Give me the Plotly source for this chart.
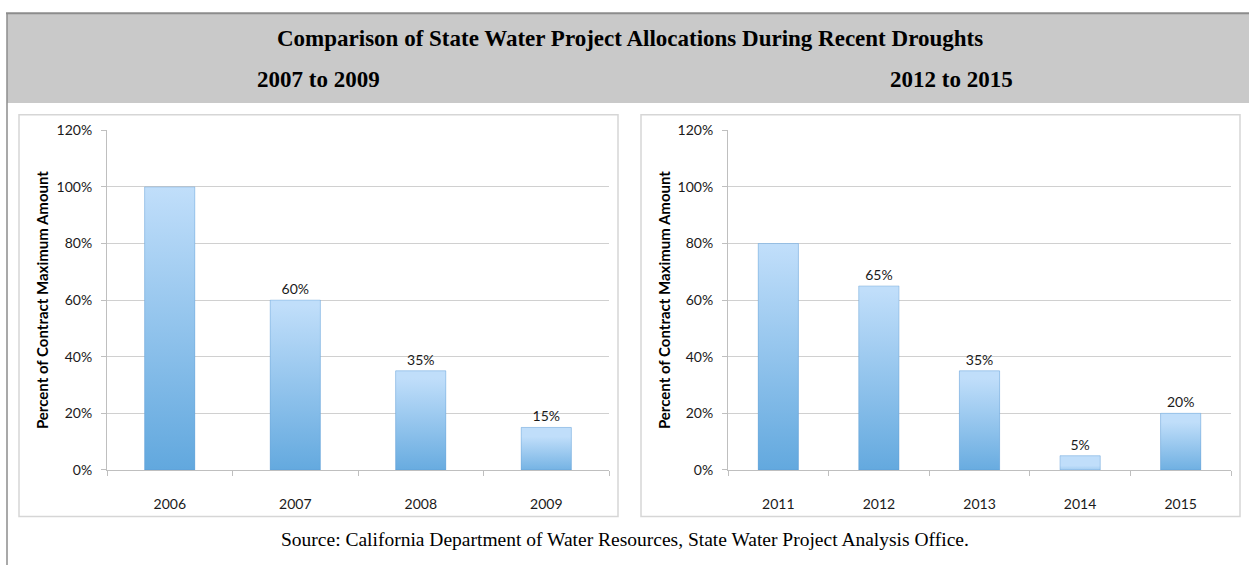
import plotly.graph_objects as go

# ---- data ----
title = "Comparison of State Water Project Allocations During Recent Droughts"
left_subtitle = "2007 to 2009"
right_subtitle = "2012 to 2015"
left_years = ["2006", "2007", "2008", "2009"]
left_values = [100, 60, 35, 15]
left_labels = ["", "60%", "35%", "15%"]
right_years = ["2011", "2012", "2013", "2014", "2015"]
right_values = [80, 65, 35, 5, 20]
right_labels = ["", "65%", "35%", "5%", "20%"]
y_ticks = [0, 20, 40, 60, 80, 100, 120]
y_ticktext = ["0%", "20%", "40%", "60%", "80%", "100%", "120%"]
y_title = "Percent of Contract Maximum Amount"
source = "Source: California Department of Water Resources, State Water Project Analysis Office."

W, H = 1249, 573
def px(x):
    return x / W
def py(y):
    return 1 - y / H

DARK = "#5ea6dd"
LIGHT = "#c0defa"
MID = "#8ec2ee"
BAR_W = 0.4
FONT = "Lato"
SERIF = "Liberation Serif"

fig = go.Figure()

def add_panel(years, values, labels, xa, ya):
    xs = list(range(len(years)))
    fig.add_trace(go.Bar(
        x=xs, y=values, width=BAR_W, xaxis=xa, yaxis=ya,
        marker=dict(color=MID, line=dict(width=0)),
        text=labels, textposition="outside", cliponaxis=False,
        textfont=dict(family=FONT, size=14, color="#1a1a1a"),
        hoverinfo="skip", showlegend=False,
    ))
    for i, v in zip(xs, values):
        fig.add_trace(go.Scatter(
            x=[i - BAR_W / 2, i + BAR_W / 2, i + BAR_W / 2, i - BAR_W / 2, i - BAR_W / 2],
            y=[0, 0, v, v, 0], xaxis=xa, yaxis=ya,
            mode="lines", fill="toself",
            line=dict(width=1, color="rgba(90,150,205,0.35)"),
            fillgradient=dict(type="vertical", colorscale=[[0, DARK], [1, LIGHT]], start=0, stop=v),
            hoverinfo="skip", showlegend=False,
        ))

add_panel(left_years, left_values, left_labels, "x", "y")
add_panel(right_years, right_values, right_labels, "x2", "y2")

def xaxis_cfg(domain, years):
    n = len(years)
    return dict(
        domain=domain, range=[-0.5, n - 0.5],
        tickmode="array", tickvals=list(range(n)), ticktext=years,
        ticks="", showgrid=False, zeroline=False,
        showline=True, linecolor="#bfbfbf", linewidth=1,
        tickfont=dict(family=FONT, size=14, color="#1a1a1a"),
        ticklabelstandoff=21,
        minor=dict(tickmode="linear", tick0=-0.5, dtick=1, ticks="outside",
                   ticklen=5, tickcolor="#bfbfbf", showgrid=False),
        fixedrange=True,
    )

def yaxis_cfg(anchor):
    return dict(
        domain=[py(475), py(125)], range=[0, 120], anchor=anchor,
        tickmode="array", tickvals=y_ticks, ticktext=y_ticktext,
        showgrid=True, gridcolor="#d0d0d0", gridwidth=1,
        zeroline=False, showline=True, linecolor="#bfbfbf", linewidth=1,
        ticks="outside", ticklen=5, tickcolor="#bfbfbf",
        tickfont=dict(family=FONT, size=14, color="#1a1a1a"),
        ticklabelstandoff=6,
        fixedrange=True,
    )

fig.update_layout(
    width=W, height=H,
    margin=dict(l=0, r=0, t=0, b=0),
    paper_bgcolor="white", plot_bgcolor="white",
    xaxis=dict(xaxis_cfg([px(107), px(609)], left_years), anchor="y"),
    yaxis=yaxis_cfg("x"),
    xaxis2=dict(xaxis_cfg([px(728), px(1231)], right_years), anchor="y2"),
    yaxis2=yaxis_cfg("x2"),
    bargap=0.6,
)

shapes = [
    dict(type="rect", xref="paper", yref="paper", x0=px(7), x1=1, y0=py(97), y1=py(5),
         fillcolor="#c9c9c9", line=dict(width=0), layer="below"),
    dict(type="line", xref="paper", yref="paper", x0=px(6), x1=1, y0=py(4.5), y1=py(4.5),
         line=dict(color="#8c8c8c", width=2)),
    dict(type="line", xref="paper", yref="paper", x0=px(7), x1=px(7), y0=0, y1=py(4),
         line=dict(color="#8c8c8c", width=1.5)),
    dict(type="rect", xref="paper", yref="paper", x0=px(19), x1=px(618), y0=py(523), y1=py(109),
         line=dict(color="#d6d6d6", width=1.5), layer="below"),
    dict(type="rect", xref="paper", yref="paper", x0=px(641), x1=px(1240), y0=py(523), y1=py(109),
         line=dict(color="#d6d6d6", width=1.5), layer="below"),
]
fig.update_layout(shapes=shapes)

annotations = [
    dict(text=f"<b>{title}</b>", x=px(630), y=py(30), xref="paper", yref="paper",
         showarrow=False, font=dict(family=SERIF, size=23, color="black"),
         xanchor="center", yanchor="middle"),
    dict(text=f"<b>{left_subtitle}</b>", x=px(318), y=py(73), xref="paper", yref="paper",
         showarrow=False, font=dict(family=SERIF, size=23, color="black"),
         xanchor="center", yanchor="middle"),
    dict(text=f"<b>{right_subtitle}</b>", x=px(951), y=py(73), xref="paper", yref="paper",
         showarrow=False, font=dict(family=SERIF, size=23, color="black"),
         xanchor="center", yanchor="middle"),
    dict(text=f"<b>{y_title}</b>", x=px(42), y=py(300), xref="paper", yref="paper",
         showarrow=False, textangle=-90, font=dict(family=FONT, size=15, color="black"),
         xanchor="center", yanchor="middle"),
    dict(text=f"<b>{y_title}</b>", x=px(664), y=py(300), xref="paper", yref="paper",
         showarrow=False, textangle=-90, font=dict(family=FONT, size=15, color="black"),
         xanchor="center", yanchor="middle"),
    dict(text=source, x=px(625), y=py(547), xref="paper", yref="paper",
         showarrow=False, font=dict(family=SERIF, size=19.5, color="black"),
         xanchor="center", yanchor="middle"),
]
fig.update_layout(annotations=annotations)

fig.write_html(
    "out.html",
    config={"displayModeBar": False},
    post_script="document.body.style.margin='0';document.body.style.overflow='hidden';",
)
